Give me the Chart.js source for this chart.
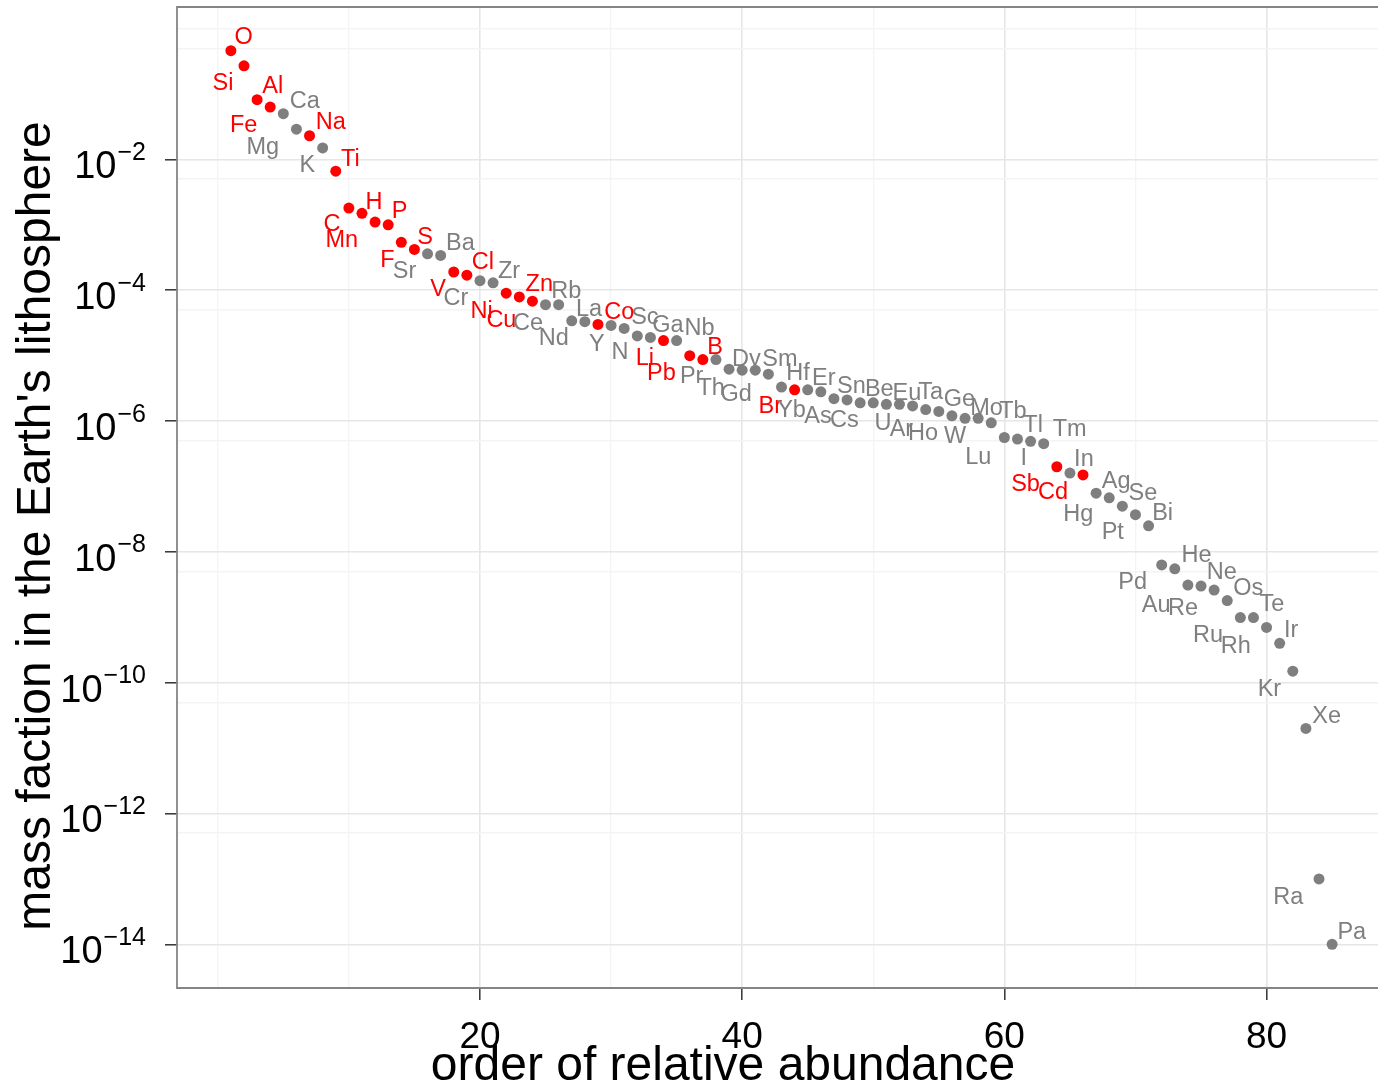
<!DOCTYPE html>
<html>
<head>
<meta charset="utf-8">
<title>Abundance of elements in the Earth's lithosphere</title>
<script src="https://cdn.jsdelivr.net/npm/chart.js@4/dist/chart.umd.min.js"></script>
<style>
  html, body { margin: 0; padding: 0; background: #ffffff; overflow: hidden; }
  canvas { display: block; }
</style>
</head>
<body>
<canvas id="chart" width="1378" height="1087"></canvas>
<script>
// Elements in order of decreasing abundance (rank = position + 1)
const elements = [
  'O','Si','Al','Fe','Ca','Mg','Na','K','Ti','C',
  'H','Mn','P','F','S','Sr','Ba','V','Cl','Cr',
  'Zr','Ni','Zn','Cu','Ce','Rb','La','Nd','Co','Y',
  'Sc','N','Ga','Li','Nb','Pb','B','Pr','Dy','Th',
  'Sm','Gd','Hf','Br','Er','Yb','Sn','As','Cs','Be',
  'U','Eu','Ta','Ar','Ge','Ho','W','Mo','Tb','Lu',
  'Tl','I','Tm','Sb','In','Cd','Ag','Hg','Se','Pt',
  'Bi','Pd','He','Au','Ne','Re','Os','Ru','Te','Rh',
  'Ir','Kr','Xe','Ra','Pa'
];

// Mass fraction in the lithosphere
const abundance = [
  0.46, 0.27, 0.082, 0.063, 0.050, 0.029, 0.023, 0.015, 0.0066, 0.0018,
  0.0015, 0.0011, 0.0010, 5.4e-4, 4.2e-4, 3.6e-4, 3.4e-4, 1.9e-4, 1.7e-4, 1.4e-4,
  1.3e-4, 9.0e-5, 7.9e-5, 6.8e-5, 6.0e-5, 6.0e-5, 3.4e-5, 3.3e-5, 3.0e-5, 2.9e-5,
  2.6e-5, 2.0e-5, 1.9e-5, 1.7e-5, 1.7e-5, 1.0e-5, 8.7e-6, 8.7e-6, 6.2e-6, 6.0e-6,
  6.0e-6, 5.2e-6, 3.3e-6, 3.0e-6, 3.0e-6, 2.8e-6, 2.2e-6, 2.1e-6, 1.9e-6, 1.9e-6,
  1.8e-6, 1.8e-6, 1.7e-6, 1.5e-6, 1.4e-6, 1.2e-6, 1.1e-6, 1.1e-6, 9.4e-7, 5.6e-7,
  5.3e-7, 4.9e-7, 4.5e-7, 2.0e-7, 1.6e-7, 1.5e-7, 7.9e-8, 6.7e-8, 5.0e-8, 3.7e-8,
  2.5e-8, 6.3e-9, 5.5e-9, 3.1e-9, 3.0e-9, 2.6e-9, 1.8e-9, 9.9e-10, 9.9e-10, 7.0e-10,
  4.0e-10, 1.5e-10, 2.0e-11, 1.0e-13, 1.0e-14
];

// 1 = highlighted (red), 0 = other (grey)
const highlighted = [
  1,1,1,1,0,0,1,0,1,1,
  1,1,1,1,1,0,0,1,1,0,
  0,1,1,1,0,0,0,0,1,0,
  0,0,0,1,0,1,1,0,0,0,
  0,0,0,1,0,0,0,0,0,0,
  0,0,0,0,0,0,0,0,0,0,
  0,0,0,1,0,1,0,0,0,0,
  0,0,0,0,0,0,0,0,0,0,
  0,0,0,0,0
];

// Tick positions
const xMajorTicks = [20, 40, 60, 80];
const xMinorTicks = [0, 10, 30, 50, 70];
const yMajorTicks = [1e-2, 1e-4, 1e-6, 1e-8, 1e-10, 1e-12, 1e-14];
const yMinorTicks = [1, 0.5, 5e-3, 5e-5, 5e-7, 5e-9, 5e-11, 5e-13];

// Text labels
const xTitle = 'order of relative abundance';
const yTitle = "mass faction in the Earth's lithosphere";

// Layout: pixel nudges of each element label from its point (repelled placement)
const labelDx = [
  12.7,-21,15.7,-26.6,21.4,-33.7,21.3,-15.4,14.7,-17,
  12,-33.3,11.4,-14,10.6,-23,19.7,-15.7,16,-24,
  16,-24.6,20,-31,-17.4,7.7,17.3,-31,21.3,-14.3,
  20.7,-17.3,17.6,-18.7,23,-28.3,12.3,-24.3,17.4,-31,
  24.7,-32.3,16.6,-24.3,16,-29.3,17.4,-29,-15.7,6,
  -3.5,7.4,18,-24.3,20.7,-29,-10,8.4,21.6,-26,
  15.6,-6.7,26,-31.3,14,-30,20,-31,20.6,-22.7,
  14,-29,21.7,-31.7,20.7,-31,21,-32.4,18.4,-30.7,
  11.4,-23.4,20.7,-30.7,19.7
];
const labelDy = [
  -13.4,17.3,-13,18.7,-12.6,18.7,-13,17.4,-12,16.7,
  -11,18.7,-13.6,18,-12,17.4,-12,17.7,-12.3,18.3,
  -11.7,18.4,-12.3,19.3,18.3,-13.3,-11.7,17,-11.6,19,
  -11,16.6,-12.3,18.3,-12.4,18,-12,17,-10,18.3,
  -10.7,20,-13.3,16.7,-11.7,19,-11.7,16.7,18,-13,
  19,-10.6,-13.4,20,-11.7,17.3,17.7,-10,-11.6,19.6,
  -13.3,17.6,-14,17.7,-13.3,17.4,-11.6,16.7,-12.7,17.7,
  -12.7,17.7,-13.3,20,-13.3,18.6,-11.7,17.7,-13.3,18.7,
  -12.6,18.7,-12.3,19,-11.6
];

const RED = '#FF0000';
const GREY = '#7F7F7F';
const FONT = '"Liberation Sans", Arial, Helvetica, sans-serif';
const GRID_MAJOR = '#E6E6E6';
const GRID_MINOR = '#F4F4F4';
const TICK_COLOR = '#333333';

const points = abundance.map((v, i) => ({ x: i + 1, y: v }));
const pointColors = highlighted.map(h => (h ? RED : GREY));

const isMinorTick = c => !!(c.tick && c.tick.minor);

const decorations = {
  id: 'decorations',
  beforeDraw(chart) {
    const ctx = chart.ctx;
    ctx.save();
    ctx.fillStyle = '#ffffff';
    ctx.fillRect(0, 0, chart.width, chart.height);
    ctx.restore();
  },
  afterDatasetsDraw(chart) {
    const { ctx, chartArea: a, scales: { x, y } } = chart;
    ctx.save();

    // panel border (top, left, bottom)
    ctx.strokeStyle = '#858585';
    ctx.lineWidth = 1.8;
    ctx.beginPath();
    ctx.moveTo(chart.width + 5, a.top);
    ctx.lineTo(a.left, a.top);
    ctx.lineTo(a.left, a.bottom);
    ctx.lineTo(chart.width + 5, a.bottom);
    ctx.stroke();

    // element labels
    ctx.font = '23.5px ' + FONT;
    ctx.textAlign = 'center';
    ctx.textBaseline = 'middle';
    elements.forEach((el, i) => {
      const px = x.getPixelForValue(i + 1);
      const py = y.getPixelForValue(abundance[i]);
      ctx.fillStyle = highlighted[i] ? RED : GREY;
      ctx.fillText(el, px + labelDx[i], py + labelDy[i]);
    });

    // y tick labels: 10 with superscript exponent
    ctx.fillStyle = '#000000';
    ctx.textBaseline = 'alphabetic';
    const labelRight = 146;
    yMajorTicks.forEach(v => {
      const py = y.getPixelForValue(v);
      const exp = '\u2212' + Math.abs(Math.round(Math.log10(v)));
      ctx.font = '25px ' + FONT;
      const wExp = ctx.measureText(exp).width;
      ctx.textAlign = 'left';
      ctx.fillText(exp, labelRight - wExp, py + 0.5);
      ctx.font = '38px ' + FONT;
      ctx.textAlign = 'right';
      ctx.fillText('10', labelRight - wExp - 1, py + 19);
    });

    // x tick labels
    ctx.font = '37px ' + FONT;
    ctx.textAlign = 'center';
    xMajorTicks.forEach(v => {
      ctx.fillText(String(v), x.getPixelForValue(v), 1047.5);
    });

    // axis titles
    ctx.font = '48px ' + FONT;
    ctx.textAlign = 'center';
    ctx.fillText(xTitle, 723, 1080);

    ctx.translate(50, 526);
    ctx.rotate(-Math.PI / 2);
    ctx.fillText(yTitle, 0, 0);

    ctx.restore();
  }
};

new Chart(document.getElementById('chart'), {
  type: 'scatter',
  data: {
    datasets: [{
      data: points,
      pointRadius: 5.5,
      pointHoverRadius: 5.5,
      pointBorderWidth: 0,
      pointBackgroundColor: pointColors,
      pointBorderColor: pointColors
    }]
  },
  options: {
    responsive: false,
    animation: false,
    devicePixelRatio: 1,
    events: [],
    layout: { autoPadding: false, padding: { top: 7, right: 0, bottom: 0, left: 0 } },
    plugins: {
      legend: { display: false },
      tooltip: { enabled: false },
      title: { display: false }
    },
    scales: {
      x: {
        type: 'linear',
        min: -3.11,
        max: 88.5,
        afterBuildTicks: s => {
          s.ticks = xMinorTicks.map(v => ({ value: v, minor: true }))
            .concat(xMajorTicks.map(v => ({ value: v, minor: false })))
            .sort((p, q) => p.value - q.value);
        },
        afterFit: s => { s.height = 99; },
        ticks: { display: false },
        border: { display: false },
        grid: {
          drawTicks: true,
          tickLength: 12,
          tickWidth: 1.5,
          tickColor: c => (isMinorTick(c) ? 'rgba(0,0,0,0)' : TICK_COLOR),
          color: c => (isMinorTick(c) ? GRID_MINOR : GRID_MAJOR),
          lineWidth: c => (isMinorTick(c) ? 1.4 : 1.6)
        }
      },
      y: {
        type: 'logarithmic',
        min: Math.pow(10, -14.668),
        max: Math.pow(10, 0.330),
        afterBuildTicks: s => {
          s.ticks = yMinorTicks.map(v => ({ value: v, minor: true }))
            .concat(yMajorTicks.map(v => ({ value: v, minor: false })))
            .sort((p, q) => p.value - q.value);
        },
        afterFit: s => { s.width = 177; },
        ticks: { display: false },
        border: { display: false },
        grid: {
          drawTicks: true,
          tickLength: 12,
          tickWidth: 1.5,
          tickColor: c => (isMinorTick(c) ? 'rgba(0,0,0,0)' : TICK_COLOR),
          color: c => (isMinorTick(c) ? GRID_MINOR : GRID_MAJOR),
          lineWidth: c => (isMinorTick(c) ? 1.4 : 1.6)
        }
      }
    }
  },
  plugins: [decorations]
});
</script>
</body>
</html>
